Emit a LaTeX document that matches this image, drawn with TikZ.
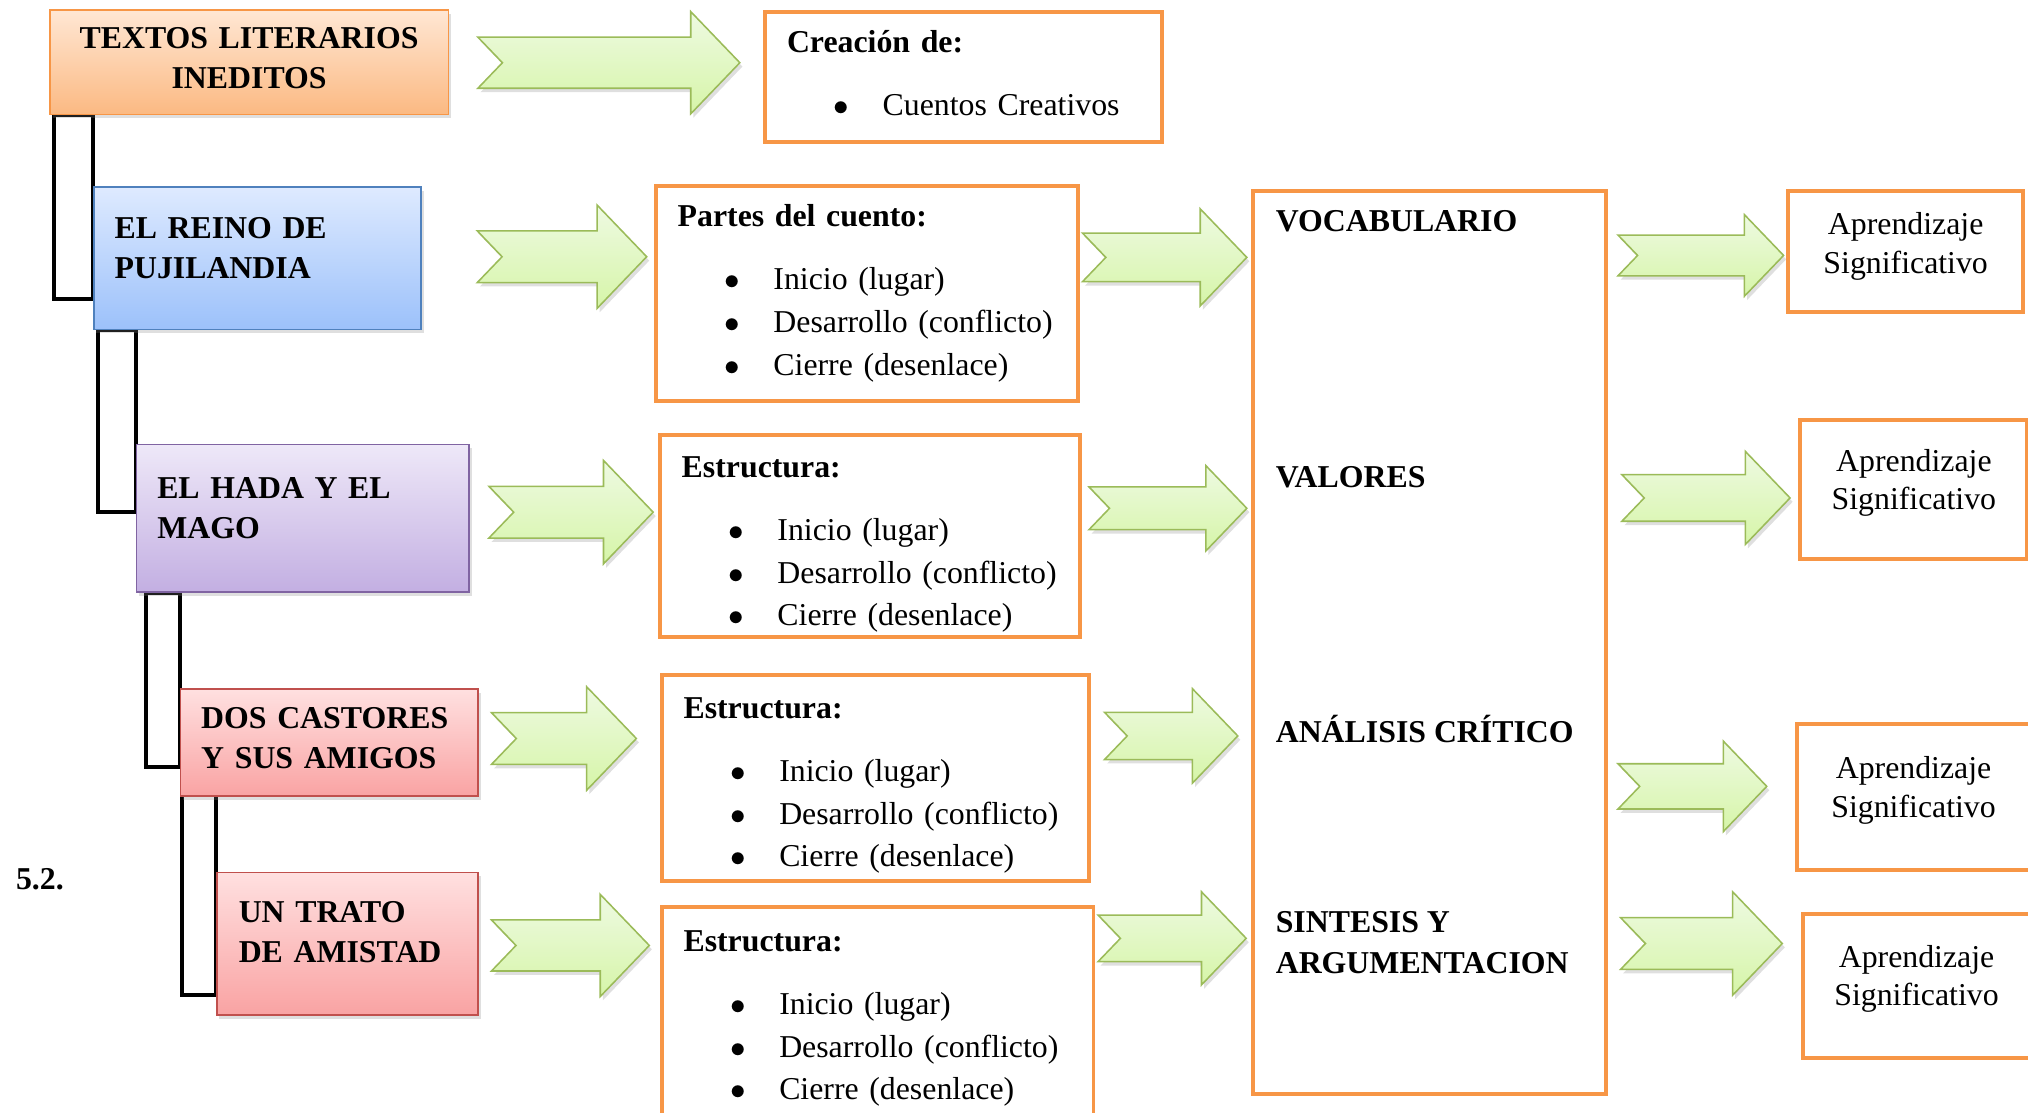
\documentclass[tikz,border=0pt]{standalone}
\usepackage{fontspec}
\setmainfont{Liberation Serif}
\usetikzlibrary{calc}
\usetikzlibrary{shadows}
\usetikzlibrary{backgrounds}
\definecolor{boxorange}{RGB}{247,150,70}
\definecolor{textostop}{RGB}{255,231,212}
\definecolor{textosbot}{RGB}{251,185,130}
\definecolor{reinotop}{RGB}{222,234,255}
\definecolor{reinobot}{RGB}{156,193,250}
\definecolor{reinoline}{RGB}{79,129,189}
\definecolor{hadatop}{RGB}{238,232,248}
\definecolor{hadabot}{RGB}{195,175,226}
\definecolor{hadaline}{RGB}{128,100,162}
\definecolor{rojotop}{RGB}{255,224,224}
\definecolor{rojobot}{RGB}{249,163,163}
\definecolor{rojoline}{RGB}{192,80,77}
\definecolor{flechatop}{RGB}{238,250,226}
\definecolor{flechabot}{RGB}{214,245,168}
\definecolor{flechaline}{RGB}{155,187,89}
\newcommand{\bul}[1]{\hspace*{18.1pt}\makebox[18.9pt][l]{$\bullet$}#1}
\tikzset{
  sombra/.style={drop shadow={shadow xshift=1pt, shadow yshift=-1.5pt, opacity=0.25}},
  flecha/.style={draw=flechaline, line width=0.6pt, top color=flechatop, bottom color=flechabot, sombra},
  % block arrow with notched tail, origin at the tail
  pics/greenarrow/.style args={#1 by #2}{
    code={
      \path [flecha] (0,{0.25*#2}) -- ({#1-0.48*#2},{0.25*#2}) -- ({#1-0.48*#2},{0.5*#2})
        -- (#1,0) -- ({#1-0.48*#2},{-0.5*#2}) -- ({#1-0.48*#2},{-0.25*#2})
        -- (0,{-0.25*#2}) -- ({0.24*#2},0) -- cycle;
    }
  },
  colorbox/.style={anchor=north west, draw, line width=0.6pt, inner xsep=8pt, inner ysep=0pt, align=left, sombra,
    font=\fontsize{12.3pt}{15.5pt}\selectfont\bfseries},
  obox/.style={anchor=north west, draw=boxorange, line width=1.5pt, fill=white, inner xsep=8.5pt, inner ysep=0pt,
    align=left, font=\fontsize{12.3pt}{16.5pt}\selectfont},
  abox/.style={obox, inner xsep=4pt, align=center, font=\fontsize{12.3pt}{15pt}\selectfont},
  eje/.style={inner sep=0pt, font=\fontsize{12.3pt}{16pt}\selectfont\bfseries},
  bracket/.style={draw=black, line width=1.6pt},
}
\begin{document}
\begin{tikzpicture}[x=0.5pt, y=-0.5pt]
  \useasboundingbox (0,0) rectangle (1568,860.5);

  % left column
  \node [colorbox, draw=boxorange, top color=textostop, bottom color=textosbot, text width=138pt, align=center,
    minimum height=40.5pt] (textos) at (38,7) {TEXTOS LITERARIOS\\INEDITOS\\[-12.5pt]\mbox{}};
  \node [colorbox, draw=reinoline, top color=reinotop, bottom color=reinobot, text width=110.5pt,
    minimum height=55pt] (reino) at (72,144) {EL REINO DE\\PUJILANDIA\\[-7.5pt]\mbox{}};
  \node [colorbox, draw=hadaline, top color=hadatop, bottom color=hadabot, text width=112.5pt,
    minimum height=57pt] (hada) at (105,343) {EL HADA Y EL\\MAGO\\[-7.5pt]\mbox{}};
  \node [colorbox, draw=rojoline, top color=rojotop, bottom color=rojobot, text width=99pt,
    minimum height=41.5pt] (dos) at (139,532) {DOS CASTORES\\Y SUS AMIGOS\\[-12pt]\mbox{}};
  \node [colorbox, draw=rojoline, top color=rojotop, bottom color=rojobot, inner xsep=8.5pt, text width=84pt,
    minimum height=55pt] (untrato) at (167,674) {UN TRATO\\DE AMISTAD\\[-6.5pt]\mbox{}};
  \node [eje, anchor=base west] (seccion) at (12,688) {5.2.};

  \begin{scope}[on background layer]
    \draw [bracket] ([xshift=1.75pt]textos.south west) rectangle (reino.west |- 0,231);
    \draw [bracket] ([xshift=1.75pt]reino.south west) rectangle (hada.west |- 0,396);
    \draw [bracket] ([xshift=4pt]hada.south west) rectangle (dos.west |- 0,593);
    \draw [bracket] ([xshift=1pt,yshift=2.5pt]dos.south west) rectangle (untrato.west |- 0,769);
  \end{scope}

  % middle column
  \node [obox, text width=136.5pt, minimum height=50pt] (creacion) at (590,8)
    {\textbf{Creación de:}\\[8pt]\bul{Cuentos Creativos}\\[-13.5pt]\mbox{}};
  \node [obox, text width=146.25pt, minimum height=83.25pt] (partes) at (505.5,142)
    {\textbf{Partes del cuento:}\\[8pt]\bul{Inicio (lugar)}\\\bul{Desarrollo (conflicto)}\\\bul{Cierre (desenlace)}};
  \node [obox, text width=145.5pt, minimum height=78pt] (estructura1) at (508.6,335)
    {\mbox{}\\[-1.9pt]\textbf{Estructura:}\\[8pt]\bul{Inicio (lugar)}\\\bul{Desarrollo (conflicto)}\\\bul{Cierre (desenlace)}};
  \node [obox, text width=148.25pt, minimum height=79.7pt] (estructura2) at (510,520.6)
    {\mbox{}\\[-2.9pt]\textbf{Estructura:}\\[8pt]\bul{Inicio (lugar)}\\\bul{Desarrollo (conflicto)}\\\bul{Cierre (desenlace)}};
  \node [obox, text width=150pt, minimum height=82.5pt] (estructura3) at (510,700)
    {\mbox{}\\[-4.9pt]\textbf{Estructura:}\\[8pt]\bul{Inicio (lugar)}\\\bul{Desarrollo (conflicto)}\\\bul{Cierre (desenlace)}};

  % big box
  \node [obox, minimum width=136.25pt, minimum height=349pt] (ejes) at (967.5,146.4) {};
  \node [eje, anchor=base west] (vocabulario) at (986,179) {VOCABULARIO};
  \node [eje, anchor=base west] (valores) at (986,376.7) {VALORES};
  \node [eje, anchor=base west] (analisis) at (986,573.8) {ANÁLISIS CRÍTICO};
  \node [eje, anchor=west, align=left] (sintesis) at (986,728.9) {SINTESIS Y\\ARGUMENTACION};

  % right column
  \node [abox, text width=82.9pt, minimum height=46.65pt] (aprend1) at (1381,146.4)
    {Aprendizaje\\Significativo\\[-8.5pt]\mbox{}};
  \node [abox, text width=79.75pt, minimum height=53.75pt] (aprend2) at (1390.5,323.5)
    {Aprendizaje\\Significativo\\[-7pt]\mbox{}};
  \node [abox, text width=82pt, minimum height=56.5pt] (aprend3) at (1388,558)
    {Aprendizaje\\Significativo\\[-7.5pt]\mbox{}};
  \node [abox, text width=79.5pt, minimum height=55.75pt] (aprend4) at (1392.8,705)
    {Aprendizaje\\Significativo\\[-7pt]\mbox{}};

  % green block arrows
  \pic at (369.5,48.5) {greenarrow={202.5 by 79}};
  \pic at (369,198.5) {greenarrow={131 by 80}};
  \pic at (378,396) {greenarrow={127 by 80}};
  \pic at (380,571) {greenarrow={112 by 80}};
  \pic at (380,731) {greenarrow={122 by 79}};
  \pic at (837,199) {greenarrow={127 by 75}};
  \pic at (842,393) {greenarrow={122 by 66}};
  \pic at (854,569) {greenarrow={103 by 73}};
  \pic at (849,725.5) {greenarrow={114.5 by 72}};
  \pic at (1251,197.5) {greenarrow={128 by 63}};
  \pic at (1254,385) {greenarrow={130 by 72}};
  \pic at (1251,608) {greenarrow={115 by 70}};
  \pic at (1253,729.5) {greenarrow={125 by 80}};
\end{tikzpicture}
\end{document}
